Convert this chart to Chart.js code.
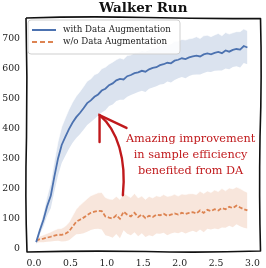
<!DOCTYPE html>
<html>
<head>
<meta charset="utf-8">
<script src="https://cdn.jsdelivr.net/npm/chart.js@4/dist/chart.umd.min.js"></script>
<style>
  html, body { margin: 0; padding: 0; background: #fff; }
  #wrap { width: 266px; height: 268px; }
</style>
</head>
<body>
<div id="wrap"><canvas id="chart" width="266" height="268"></canvas></div>
<script>
// training steps (x1e6)
const steps = [0.03,0.08,0.13,0.18,0.23,0.28,0.33,0.38,0.43,0.48,0.53,0.58,0.63,0.68,0.73,0.78,0.83,0.88,0.93,0.98,
    1.03,1.08,1.13,1.18,1.23,1.28,1.33,1.38,1.43,1.48,1.53,1.58,1.63,1.68,1.73,1.78,1.83,1.88,1.93,1.98,
    2.03,2.08,2.13,2.18,2.23,2.28,2.33,2.38,2.43,2.48,2.53,2.58,2.63,2.68,2.73,2.78,2.83,2.88,2.93]

const withDA = [20,60,95,140,175,240,300,345,372,398,420,438,452,468,485,494,506,514,527,533,
    545,551,561,566,564,575,579,585,588,593,590,598,603,605,612,615,620,618,627,630,
    635,632,638,641,644,641,648,651,648,653,656,652,661,657,663,666,664,676,671]
const withDAStd = [8,14,22,32,42,50,56,60,63,66,68,70,71,72,73,72,74,71,73,72,
    70,71,69,70,68,69,67,68,66,67,68,65,66,64,65,66,63,64,65,62,
    63,64,62,61,63,60,62,61,59,60,62,58,60,59,57,58,60,57,56]

const noDA = [25,30,32,35,38,42,45,44,48,56,72,88,95,102,110,118,122,125,124,106,
    102,99,110,98,122,112,106,118,104,112,100,108,104,112,110,115,108,112,116,112,
    118,114,118,120,116,126,118,128,124,130,126,134,130,138,134,142,136,130,126]
const noDAStd = [8,10,12,14,16,18,20,22,25,30,36,42,48,52,55,57,58,60,62,63,
    62,64,63,65,62,64,63,65,64,62,63,65,64,63,62,64,65,63,64,62,
    63,65,64,62,63,64,65,63,62,64,63,65,62,63,64,62,63,62,60]

const xTicks = [0, 0.5, 1.0, 1.5, 2.0, 2.5, 3.0]
const yTicks = [0, 100, 200, 300, 400, 500, 600, 700]

const labels = ['with Data Augmentation', 'w/o Data Augmentation']
const note = ['Amazing improvement', 'in sample efficiency', 'benefited from DA']

const FONT = "'DejaVu Serif', serif"
const BLUE = '#4c72b0'
const ORANGE = '#dd8452'
const RED = '#c0191c'

function pts(vals, sd, sign) {
    return steps.map((x, i) => ({ x: x, y: sd ? vals[i] + sign * sd[i] : vals[i] }))
}

// titulo, moldura, legenda e anotacao
const sketchPlugin = {
    id: 'sketch',
    afterDatasetsDraw(chart) {
        const ctx = chart.ctx
        const a = chart.chartArea
        const xs = chart.scales.x, ys = chart.scales.y

        // moldura "desenhada a mao"
        ctx.save()
        ctx.strokeStyle = '#111'
        ctx.lineWidth = 1.6
        ctx.lineJoin = 'round'
        ctx.beginPath()
        ctx.moveTo(a.left, a.top + 1)
        ctx.quadraticCurveTo(a.left + 60, a.top - 1, a.left + 120, a.top + 0.5)
        ctx.quadraticCurveTo(a.left + 180, a.top + 2, a.right, a.top + 1.5)
        ctx.quadraticCurveTo(a.right + 1.5, a.top + 60, a.right - 0.5, a.top + 120)
        ctx.quadraticCurveTo(a.right - 1.5, a.top + 180, a.right, a.bottom - 1)
        ctx.quadraticCurveTo(a.right - 60, a.bottom + 1, a.left + 120, a.bottom - 0.5)
        ctx.quadraticCurveTo(a.left + 60, a.bottom - 1.5, a.left + 1, a.bottom)
        ctx.quadraticCurveTo(a.left - 1, a.top + 180, a.left + 0.5, a.top + 120)
        ctx.quadraticCurveTo(a.left + 1.5, a.top + 60, a.left, a.top + 1)
        ctx.stroke()
        ctx.restore()

        // titulo
        ctx.save()
        ctx.fillStyle = '#111'
        ctx.font = 'bold 13.5px ' + FONT
        ctx.textAlign = 'center'
        ctx.textBaseline = 'middle'
        ctx.fillText('Walker Run', (a.left + a.right) / 2, 8)
        ctx.restore()

        // legenda
        ctx.save()
        const lx = a.left + 2, ly = a.top + 3, lw = 152, lh = 34
        ctx.fillStyle = 'rgba(255,255,255,0.85)'
        ctx.strokeStyle = '#cfcfcf'
        ctx.lineWidth = 1
        ctx.beginPath()
        ctx.roundRect(lx, ly, lw, lh, 3)
        ctx.fill()
        ctx.stroke()
        ctx.font = '8.7px ' + FONT
        ctx.textBaseline = 'middle'
        ctx.fillStyle = '#222'
        const colors = [BLUE, ORANGE]
        labels.forEach((lab, i) => {
            const yy = ly + 10 + i * 12
            ctx.strokeStyle = colors[i]
            ctx.lineWidth = 2
            ctx.setLineDash(i === 1 ? [5, 3] : [])
            ctx.beginPath()
            ctx.moveTo(lx + 4, yy)
            ctx.lineTo(lx + 28, yy)
            ctx.stroke()
            ctx.setLineDash([])
            ctx.fillText(lab, lx + 35, yy)
        })
        ctx.restore()

        // anotacao com seta
        ctx.save()
        ctx.fillStyle = RED
        ctx.font = '11.3px ' + FONT
        ctx.textAlign = 'center'
        ctx.textBaseline = 'middle'
        const tx = xs.getPixelForValue(2.15)
        ;[365, 311, 258].forEach((v, i) => ctx.fillText(note[i], tx, ys.getPixelForValue(v)))

        const p = (x, y) => [xs.getPixelForValue(x), ys.getPixelForValue(y)]
        const tail = p(1.22, 177), c1 = p(1.27, 295), c2 = p(1.15, 395), tip = p(0.9, 445)
        ctx.strokeStyle = RED
        ctx.lineWidth = 2.4
        ctx.lineCap = 'round'
        ctx.beginPath()
        ctx.moveTo(tail[0], tail[1])
        ctx.bezierCurveTo(c1[0], c1[1], c2[0], c2[1], tip[0], tip[1])
        ctx.stroke()
        const arm1 = p(1.27, 402), arm2 = p(0.9, 355)
        ctx.beginPath()
        ctx.moveTo(arm1[0], arm1[1])
        ctx.lineTo(tip[0], tip[1])
        ctx.lineTo(arm2[0], arm2[1])
        ctx.stroke()
        ctx.restore()
    }
}

const ctx = document.getElementById('chart').getContext('2d')
const chart = new Chart(ctx, {
    type: 'line',
    data: {
        datasets: [
            { data: pts(withDA), borderColor: BLUE, borderWidth: 1.8, pointRadius: 0, fill: false, order: 0 },
            { data: pts(noDA), borderColor: ORANGE, borderWidth: 1.8, borderDash: [4, 2], pointRadius: 0, fill: false, order: 0 },
            { data: pts(withDA, withDAStd, 1), borderColor: 'rgba(255,255,255,0.6)', borderWidth: 1, pointRadius: 0,
              backgroundColor: 'rgba(76,114,176,0.2)', fill: '+1', order: 1 },
            { data: pts(withDA, withDAStd, -1), borderColor: 'rgba(255,255,255,0.6)', borderWidth: 1, pointRadius: 0, fill: false, order: 1 },
            { data: pts(noDA, noDAStd, 1), borderColor: 'rgba(255,255,255,0.6)', borderWidth: 1, pointRadius: 0,
              backgroundColor: 'rgba(221,132,82,0.2)', fill: '+1', order: 1 },
            { data: pts(noDA, noDAStd, -1), borderColor: 'rgba(255,255,255,0.6)', borderWidth: 1, pointRadius: 0, fill: false, order: 1 }
        ]
    },
    options: {
        responsive: false,
        animation: false,
        layout: { padding: { top: 17, right: 3, left: 0, bottom: 0 } },
        plugins: { legend: { display: false }, title: { display: false }, tooltip: { enabled: false } },
        scales: {
            x: {
                type: 'linear', min: -0.11, max: 3.11,
                grid: { display: false, drawTicks: false }, border: { display: false },
                afterBuildTicks: s => { s.ticks = xTicks.map(v => ({ value: v })) },
                afterFit: s => { s.height = 16 },
                ticks: { color: '#222', font: { family: FONT, size: 9.3 }, padding: 6, maxRotation: 0,
                         callback: v => Number(v).toFixed(1) }
            },
            y: {
                min: -13, max: 773,
                grid: { display: false, drawTicks: false }, border: { display: false },
                afterBuildTicks: s => { s.ticks = yTicks.map(v => ({ value: v })) },
                afterFit: s => { s.width = 26 },
                ticks: { color: '#222', font: { family: FONT, size: 9.3 }, padding: 6 }
            }
        }
    },
    plugins: [sketchPlugin]
})
</script>
</body>
</html>
